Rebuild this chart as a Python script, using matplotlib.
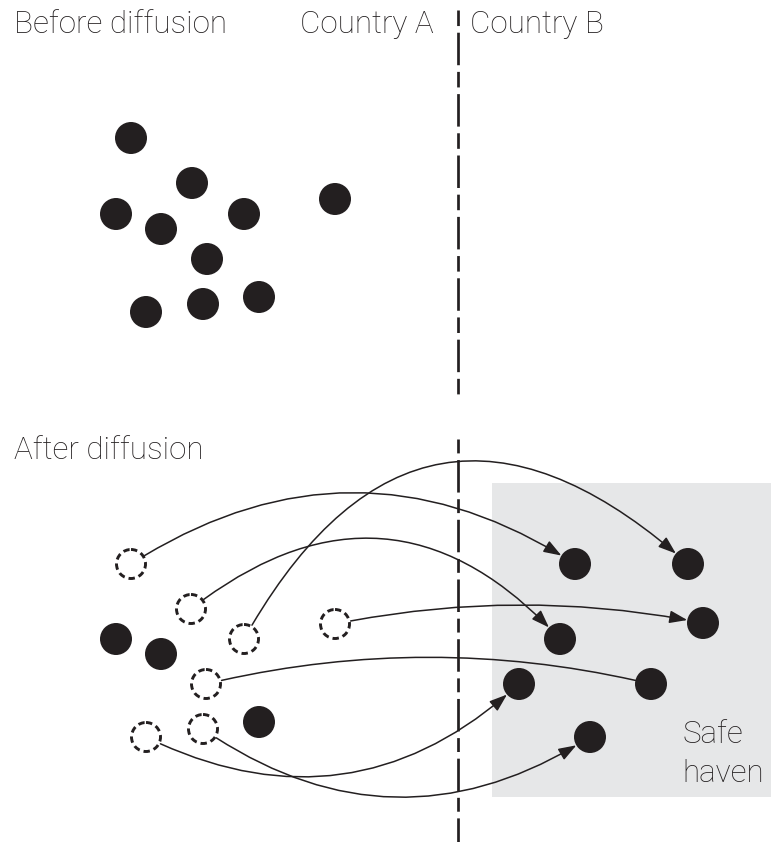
import matplotlib.pyplot as plt
from matplotlib.patches import Circle, Rectangle, FancyArrowPatch

plt.rcParams['lines.scale_dashes'] = False

INK = '#231f20'
SHADE = '#e6e7e8'

# pixel coordinates of the diagram (x right, y down)
before_x = [131, 192, 116, 161, 244, 207, 146, 203, 259, 335]
before_y = [138, 183, 214, 229, 214, 259, 312, 304, 297, 199]

stay_x = [116, 161, 259]
stay_y = [639, 654, 722]

ghost_x = [131, 191, 244, 335, 206, 203, 146]
ghost_y = [564, 609, 639, 624, 684, 729, 737]

moved_x = [575, 560, 688, 703, 651, 590, 519]
moved_y = [564, 639, 564, 623, 684, 737, 684]

bend = [-0.32, -0.46, -0.62, -0.10, -0.12, 0.33, 0.34]
has_head = [True, True, True, True, False, True, True]

fig = plt.figure(figsize=(7.71, 8.42), dpi=100)
ax = fig.add_axes([0, 0, 1, 1])
ax.set_xlim(0, 771)
ax.set_ylim(842, 0)
ax.axis('off')

# safe haven box
ax.add_patch(Rectangle((492, 483), 279, 314, facecolor=SHADE, edgecolor='none', zorder=0))

# border between countries
ax.plot([458, 458], [10, 398], color=INK, lw=1.95, dashes=(11.2, 4.8, 23.4, 4.8), solid_capstyle='butt')
ax.plot([458, 458], [439, 842], color=INK, lw=1.95, dashes=(10.0, 4.8, 23.4, 4.8), solid_capstyle='butt')

r = 16
for x, y in zip(before_x, before_y):
    ax.add_patch(Circle((x, y), r, facecolor=INK, edgecolor='none', zorder=3))
for x, y in zip(stay_x, stay_y):
    ax.add_patch(Circle((x, y), r, facecolor=INK, edgecolor='none', zorder=3))
for x, y in zip(moved_x, moved_y):
    ax.add_patch(Circle((x, y), r, facecolor=INK, edgecolor='none', zorder=3))
for x, y in zip(ghost_x, ghost_y):
    ax.add_patch(Circle((x, y), 14.5, facecolor='none', edgecolor=INK, lw=2.1,
                        linestyle=(0, (4.6, 2.9)), zorder=3))

for i in range(len(ghost_x)):
    style = '-|>,head_length=0.9,head_width=0.32' if has_head[i] else '-'
    arr = FancyArrowPatch((ghost_x[i], ghost_y[i]), (moved_x[i], moved_y[i]),
                          connectionstyle='arc3,rad=%s' % bend[i],
                          arrowstyle=style, mutation_scale=12,
                          shrinkA=11.5, shrinkB=11.5, color=INK, lw=1.1, zorder=2)
    ax.add_patch(arr)

font = dict(family=['Roboto', 'DejaVu Sans'], fontweight='light', fontsize=22.6, color=INK,
            va='baseline', ha='left')
ax.text(14, 33, 'Before diffusion', **font)
ax.text(300, 33, 'Country A', **font)
ax.text(470, 33, 'Country B', **font)
ax.text(14, 459, 'After diffusion', **font)
ax.text(683, 743, 'Safe', **font)
ax.text(682, 782, 'haven', **font)

fig.savefig('out.png', dpi=100)
